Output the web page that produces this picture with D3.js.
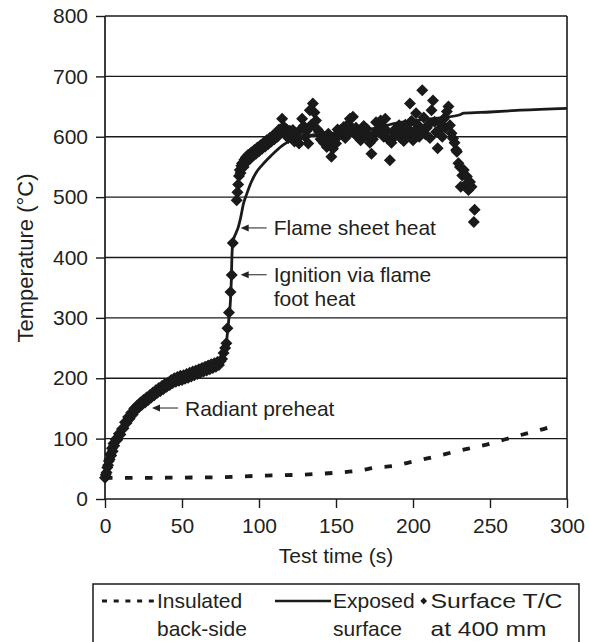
<!DOCTYPE html>
<html><head><meta charset="utf-8">
<script src="https://cdn.jsdelivr.net/npm/d3@7"></script>
<style>
body{margin:0;background:#fff}
text{font-family:"Liberation Sans",Arial,Helvetica,sans-serif;fill:#231f20;font-size:21px}
</style>
</head><body>
<svg id="c" width="589" height="642"></svg>
<script>
// ---------- data ----------
const xTicks = [0, 50, 100, 150, 200, 250, 300];
const yTicks = [0, 100, 200, 300, 400, 500, 600, 700, 800];
const xLabel = "Test time (s)";
const yLabel = "Temperature (°C)";

// Insulated back-side [time s, temp °C]
const insulated = [[0,35],[25,35],[50,35.5],[75,36],[100,38.5],[125,40],[150,43.5],[165,47],[176,52],[188,55],[200,62],[214,70],[225,77],[236,83.5],[249,91],[260,99],[270,106],[282,114],[293,122.5]];

// Exposed surface [time s, temp °C]
const exposed = [[0,35],[1,42],[2,52],[3,62],[4,70],[5,78],[6,86],[8,98],[10,108],[12,118],[15,130],[18,141],[20,148],[25,160],[30,170],[35,180],[40,188],[45,195],[50,200],[55,205],[60,210],[65,215],[70,220],[75,226],[77,235],[78.5,250],[79.5,275],[80.5,300],[81.5,330],[82,360],[82.4,400],[83,425],[85,440],[86.5,450],[88,465],[90,490],[92,505],[95,525],[98,540],[102,553],[106,564],[110,574],[116,587],[122,595],[127,600],[135,603],[145,605],[160,608],[175,614],[190,623],[205,628],[220,632],[230,636],[233,639],[250,641],[270,644],[300,647]];

// Surface T/C at 400 mm [time s, temp °C]
const surface = [[0,35],[0.5,40],[1,44],[1.5,52],[2,56],[2.5,63],[3,66],[3.5,74],[4,72],[4.5,84],[5,79],[5.5,92],[6,88],[7,99],[8,98],[9,108],[10,107],[11,116],[12,117],[13,127],[14,126],[15,136],[16,133],[17,143],[18,140],[19,150],[20,147],[21,155],[22,152],[23,160],[24,156],[25,164],[26,160],[27,168],[28,164],[29,172],[30,168],[31,176],[32,172],[33,180],[34,176],[35,184],[36,179],[37,187],[38,182],[39,191],[40,186],[41,193],[42,189],[43,197],[44,192],[45,200],[46,194],[47,202],[48,196],[49,204],[50,197],[51,205],[52,199],[53,207],[54,201],[55,209],[56,203],[57,211],[58,205],[59,213],[60,207],[61,215],[62,209],[63,217],[64,211],[65,219],[66,213],[67,221],[68,215],[69,223],[70,217],[71,225],[72,219],[73,227],[74,222],[75,228],[76,232],[77,242],[78,250],[78.8,258],[79.5,283],[80.5,309],[81.5,343],[82.3,371],[83,424],[85.5,495],[86,508],[86.5,521],[87,535],[87.5,545],[88,540],[88.5,552],[89,556],[90,550],[90.5,562],[91.5,566],[92,558],[93,570],[94,563],[95,574],[96,568],[97,578],[98,572],[99,582],[100,576],[101,586],[102,580],[103,590],[104,584],[105,594],[106,588],[107,598],[108,592],[109,602],[110,596],[111,606],[112,600],[113,612],[114,608],[115,630],[116,617],[117,605],[118,612],[119,598],[120,610],[121,604],[122,611],[123,592],[124,606],[125,597],[126,589],[127,612],[128,630],[129,618],[130,600],[131,610],[132,589],[133,644],[134,620],[135,655],[136,640],[137,627],[138,612],[139,608],[140,596],[141,603],[142,590],[143,598],[144,583],[145,605],[146,594],[147,567],[148,580],[149,600],[150,589],[151,612],[152,602],[153,611],[154,608],[155,616],[156,598],[157,604],[158,621],[159,630],[160,612],[161,633],[162,606],[163,615],[164,600],[165,598],[166,594],[167,608],[168,618],[169,605],[170,613],[171,600],[172,590],[173,572],[174,596],[175,606],[176,624],[177,612],[178,608],[179,627],[180,617],[181,600],[182,630],[183,610],[184,596],[185,561],[186,590],[187,608],[188,600],[189,614],[190,605],[191,619],[192,598],[193,610],[194,593],[195,620],[196,615],[197,603],[198,655],[199,626],[200,594],[201,610],[202,639],[203,620],[204,600],[205,612],[206,677],[207,632],[208,604],[209,615],[210,620],[211,598],[212,644],[213,660],[214,625],[215,608],[216,581],[217,611],[218,622],[219,600],[220,630],[221,615],[222,642],[223,650],[224,619],[225,606],[226,597],[227,590],[228,578],[228.5,575],[229.5,556],[230.5,550],[231,517],[232,536],[233,545],[234,520],[235,534],[236,512],[237,525],[238,517],[240,479],[239.5,459]];

const legendLabels = [["Insulated","back-side"],["Exposed","surface"],["Surface T/C","at 400 mm"]];
const annotationLabels = [["Flame sheet heat"],["Ignition via flame","foot heat"],["Radiant preheat"]];

// ---------- chart ----------
const svg = d3.select("#c");
const x = d3.scaleLinear().domain([0,300]).range([105,567]);
const y = d3.scaleLinear().domain([0,800]).range([499,16]);
const ink = "#1a1a1a";

// gridlines
svg.append("g").selectAll("line").data(yTicks.filter(d=>d>0)).join("line")
  .attr("x1",x(0)).attr("x2",x(300)).attr("y1",d=>y(d)).attr("y2",d=>y(d))
  .attr("stroke",ink).attr("stroke-width",1.4);
// right border
svg.append("line").attr("x1",x(300)).attr("x2",x(300)).attr("y1",y(800)).attr("y2",y(0))
  .attr("stroke",ink).attr("stroke-width",1.6);

// axes
const gx = svg.append("g").attr("transform",`translate(0,${y(0)})`)
  .call(d3.axisBottom(x).tickValues(xTicks).tickSize(9).tickPadding(10).tickFormat(d3.format("d")));
const gy = svg.append("g").attr("transform",`translate(${x(0)},0)`)
  .call(d3.axisLeft(y).tickValues(yTicks).tickSize(9).tickPadding(8).tickFormat(d3.format("d")));
[gx,gy].forEach(g=>{
  g.select(".domain").attr("stroke",ink).attr("stroke-width",1.7);
  g.selectAll(".tick line").attr("stroke",ink).attr("stroke-width",1.4);
  g.selectAll(".tick text").attr("font-size",21).attr("font-family",null).attr("fill","#231f20");
});
gx.select(".domain").attr("d",`M${x(0)},0H${x(300)}`);
gy.select(".domain").attr("d",`M0,${y(0)}V${y(800)}`);

// axis titles
svg.append("text").attr("x",336).attr("y",563).attr("text-anchor","middle").text(xLabel);
svg.append("text").attr("transform","translate(33,258) rotate(-90)").attr("text-anchor","middle")
  .style("font-size","22px").text(yLabel);

// insulated dashed
const line = d3.line().x(d=>x(d[0])).y(d=>y(d[1])).curve(d3.curveMonotoneX);
svg.append("path").attr("d",line(insulated)).attr("fill","none").attr("stroke",ink)
  .attr("stroke-width",3.8).attr("stroke-dasharray","7.5,12.5");

// surface markers
const diamond = (cx,cy,r)=>`M${cx},${cy-r}L${cx+r},${cy}L${cx},${cy+r}L${cx-r},${cy}Z`;
svg.append("g").selectAll("path").data(surface).join("path")
  .attr("d",d=>diamond(x(d[0]),y(d[1]),6)).attr("fill",ink);

// exposed solid
svg.append("path").attr("d",line(exposed)).attr("fill","none").attr("stroke",ink)
  .attr("stroke-width",2.8);

// annotations: arrow tip in data coords
const arrowTips = [[88.1,449],[88.1,371.5],[30.5,150.7]];
annotationLabels.forEach((lab,i)=>{
  const tx = x(arrowTips[i][0]), ty = y(arrowTips[i][1]);
  svg.append("line").attr("x1",tx+26).attr("x2",tx+7).attr("y1",ty).attr("y2",ty)
    .attr("stroke","#444").attr("stroke-width",1.2);
  svg.append("path").attr("d",`M${tx},${ty}L${tx+8},${ty-3.5}L${tx+8},${ty+3.5}Z`).attr("fill","#222");
  const t = svg.append("text").attr("x",tx+33).attr("y",ty+7.5);
  lab.forEach((s,j)=>t.append("tspan").attr("x",tx+33).attr("dy",j?24:0).text(s));
});

// legend
svg.append("rect").attr("x",93).attr("y",584).attr("width",486).attr("height",80)
  .attr("fill","none").attr("stroke",ink).attr("stroke-width",1.5);
const ly = 601;
svg.append("line").attr("x1",102).attr("x2",155).attr("y1",ly).attr("y2",ly)
  .attr("stroke",ink).attr("stroke-width",3).attr("stroke-dasharray","5,6.7");
svg.append("line").attr("x1",275).attr("x2",331).attr("y1",ly).attr("y2",ly)
  .attr("stroke",ink).attr("stroke-width",2.7);
svg.append("path").attr("d",diamond(423.7,ly,3.4)).attr("fill",ink);
const legX = [157,333,430.5];
const thirdWidths = [132,116];
legendLabels.forEach((lab,i)=>{
  lab.forEach((s,j)=>{
    const t = svg.append("text").attr("x",legX[i]).attr("y",608 + j*28).text(s);
    if (i === 2) t.attr("textLength",thirdWidths[j]).attr("lengthAdjust","spacingAndGlyphs");
  });
});
</script>
</body></html>
